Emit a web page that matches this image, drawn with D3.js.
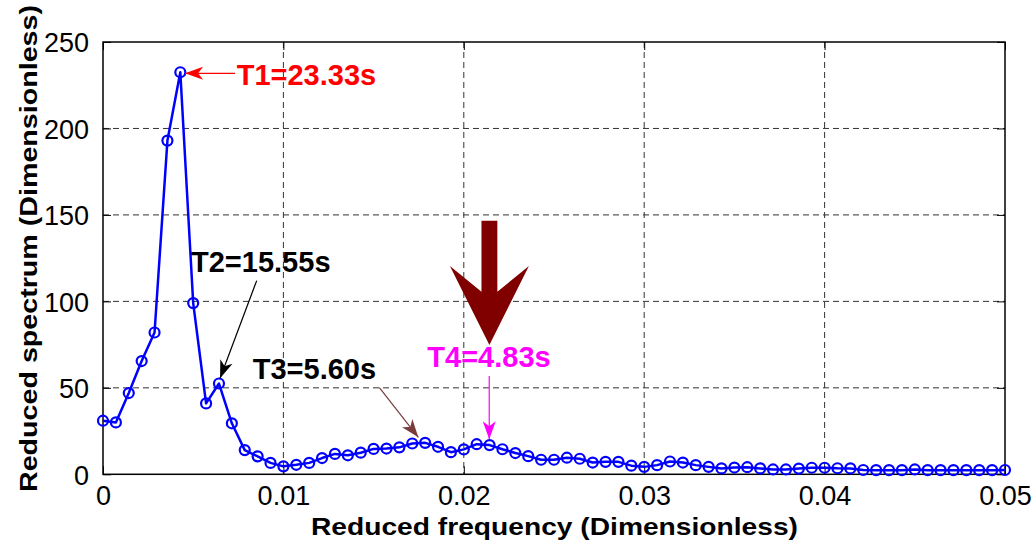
<!DOCTYPE html>
<html>
<head>
<meta charset="utf-8">
<script src="https://cdn.jsdelivr.net/npm/d3@7"></script>
<style>
  html, body { margin: 0; padding: 0; background: #fff; }
  svg { display: block; font-family: "Liberation Sans", Arial, sans-serif; }
</style>
</head>
<body>
<svg id="chart" width="1036" height="546"></svg>
<script>
// ---- data ----
const nPoints = 71;
const freqMax = 0.05;
const spectrum = [
  31, 30, 47, 65.5, 82, 193, 232.5, 99, 41, 52.5,
  29.5, 14, 10.4, 6.6, 4.6, 5.5, 6.6, 9.4, 11.8, 11,
  12.5, 14.7, 14.9, 15.6, 17.8, 18.2, 15.9, 12.8, 14.4, 17.4,
  16.9, 14.5, 12.3, 10.5, 8.4, 8.4, 9.6, 9, 6.8, 7.2,
  7.2, 5, 4.3, 5.3, 7.4, 6.8, 5.3, 4.3, 3.4, 3.9,
  4.1, 3.4, 2.8, 2.8, 3.3, 3.8, 3.8, 3.5, 3.4, 2.5,
  2.4, 2.4, 2.4, 2.8, 2.4, 2.4, 2.4, 2.4, 2.4, 2.4, 2.5
];
const frequency = spectrum.map((_, i) => i * freqMax / (nPoints - 1));
const xTicks = [0, 0.01, 0.02, 0.03, 0.04, 0.05];
const xTickLabels = ["0", "0.01", "0.02", "0.03", "0.04", "0.05"];
const yTicks = [0, 50, 100, 150, 200, 250];
const yTickLabels = ["0", "50", "100", "150", "200", "250"];
const xTitle = "Reduced frequency (Dimensionless)";
const yTitle = "Reduced spectrum (Dimensionless)";

// annotations in data units: text anchor + arrow (from -> to)
const annLabels = ["T1=23.33s", "T2=15.55s", "T3=5.60s", "T4=4.83s"];
const annColors = ["#ff0000", "#000000", "#000000", "#ff00ff"];
const annTextPos = [[0.00741, 225.2], [0.00488, 117.0], [0.00830, 55.1], [0.01798, 62.2]];
const arrowColors = ["#ff0000", "#000000", "#7a3b3b", "#ff00ff"];
const arrowFrom = [[0.00732, 231.9], [0.00852, 112.0], [0.01532, 50.1], [0.02141, 56.9]];
const arrowTo = [[0.00455, 231.9], [0.00649, 55.5], [0.01748, 21.4], [0.02141, 20.2]];
// big dark-red arrow (data units)
const bigArrow = { cx: 0.02142, top: 146.7, notch: 105.6, wing: 120.5, tip: 74.8, shaftHalf: 0.00044, wingHalf: 0.00219 };

// ---- layout ----
const svg = d3.select("#chart");
const pLeft = 103, pRight = 1005, pTop = 42, pBottom = 474.3;
const x = d3.scaleLinear().domain([0, freqMax]).range([pLeft, pRight]);
const y = d3.scaleLinear().domain([0, 250]).range([pBottom, pTop]);

// grid
const grid = svg.append("g").attr("stroke", "#333").attr("stroke-width", 1).attr("stroke-dasharray", "6,4");
xTicks.slice(1, -1).forEach(t => grid.append("line").attr("x1", x(t)).attr("x2", x(t)).attr("y1", pTop).attr("y2", pBottom));
yTicks.slice(1, -1).forEach(t => grid.append("line").attr("x1", pLeft).attr("x2", pRight).attr("y1", y(t)).attr("y2", y(t)));

// axes with inward ticks
const xAxis = d3.axisBottom(x).tickValues(xTicks).tickFormat((d, i) => xTickLabels[i]).tickSizeInner(-8).tickSizeOuter(0).tickPadding(12);
const yAxis = d3.axisLeft(y).tickValues(yTicks).tickFormat((d, i) => yTickLabels[i]).tickSizeInner(-8).tickSizeOuter(0).tickPadding(14);
const gx = svg.append("g").attr("transform", `translate(0,${pBottom})`).call(xAxis);
const gy = svg.append("g").attr("transform", `translate(${pLeft},0)`).call(yAxis);
[gx, gy].forEach(g => {
  g.select(".domain").remove();
  g.selectAll(".tick line").attr("stroke", "#000").attr("stroke-width", 1);
  g.selectAll(".tick text").attr("font-size", 27).attr("fill", "#000").attr("font-family", "Liberation Sans, Arial, sans-serif");
});
gy.selectAll(".tick text").attr("dy", "0.36em");
// top/right ticks
const gt = svg.append("g").attr("transform", `translate(0,${pTop})`).call(d3.axisTop(x).tickValues(xTicks).tickFormat("").tickSizeInner(-8).tickSizeOuter(0));
const gr = svg.append("g").attr("transform", `translate(${pRight},0)`).call(d3.axisRight(y).tickValues(yTicks).tickFormat("").tickSizeInner(-8).tickSizeOuter(0));
[gt, gr].forEach(g => { g.select(".domain").remove(); g.selectAll(".tick line").attr("stroke", "#000"); });

// box
svg.append("rect").attr("x", pLeft).attr("y", pTop).attr("width", pRight - pLeft).attr("height", pBottom - pTop)
  .attr("fill", "none").attr("stroke", "#000").attr("stroke-width", 1.5);

// titles
svg.append("text").attr("x", (pLeft + pRight) / 2 + 0.5).attr("y", 535).attr("text-anchor", "middle")
  .attr("font-size", 24).attr("font-weight", "bold").attr("textLength", 487).attr("lengthAdjust", "spacingAndGlyphs")
  .text(xTitle);
svg.append("text").attr("transform", "translate(37,248.5) rotate(-90)").attr("text-anchor", "middle")
  .attr("font-size", 24).attr("font-weight", "bold").attr("textLength", 487).attr("lengthAdjust", "spacingAndGlyphs")
  .text(yTitle);

// series
const data = frequency.map((f, i) => [f, spectrum[i]]);
svg.append("path").datum(data).attr("fill", "none").attr("stroke", "#0000ff").attr("stroke-width", 2.5)
  .attr("stroke-linejoin", "round")
  .attr("d", d3.line().x(d => x(d[0])).y(d => y(d[1])));
svg.append("g").selectAll("circle").data(data).join("circle")
  .attr("cx", d => x(d[0])).attr("cy", d => y(d[1])).attr("r", 5)
  .attr("fill", "none").attr("stroke", "#0000ff").attr("stroke-width", 2.2);

// arrows
const defs = svg.append("defs");
arrowColors.forEach((c, i) => {
  defs.append("marker").attr("id", "ah" + i).attr("viewBox", "-20 -8 22 16")
    .attr("refX", 0).attr("refY", 0).attr("markerWidth", 22).attr("markerHeight", 16)
    .attr("markerUnits", "userSpaceOnUse").attr("orient", "auto")
    .append("path").attr("d", "M0,0 L-18,-6.5 L-13,0 L-18,6.5 Z").attr("fill", c);
});
arrowFrom.forEach((p, i) => {
  svg.append("line").attr("x1", x(p[0])).attr("y1", y(p[1])).attr("x2", x(arrowTo[i][0])).attr("y2", y(arrowTo[i][1]))
    .attr("stroke", arrowColors[i]).attr("stroke-width", 1.2).attr("marker-end", `url(#ah${i})`);
});

// labels
annLabels.forEach((t, i) => {
  svg.append("text").attr("x", x(annTextPos[i][0])).attr("y", y(annTextPos[i][1]))
    .attr("font-size", 29).attr("font-weight", "bold").attr("fill", annColors[i]).text(t);
});

// big arrow
const b = bigArrow;
const pts = [
  [b.cx - b.shaftHalf, b.top], [b.cx + b.shaftHalf, b.top], [b.cx + b.shaftHalf, b.notch],
  [b.cx + b.wingHalf, b.wing], [b.cx, b.tip], [b.cx - b.wingHalf, b.wing], [b.cx - b.shaftHalf, b.notch]
];
svg.append("path").attr("d", "M" + pts.map(p => `${x(p[0])},${y(p[1])}`).join("L") + "Z").attr("fill", "#800000");
</script>
</body>
</html>
